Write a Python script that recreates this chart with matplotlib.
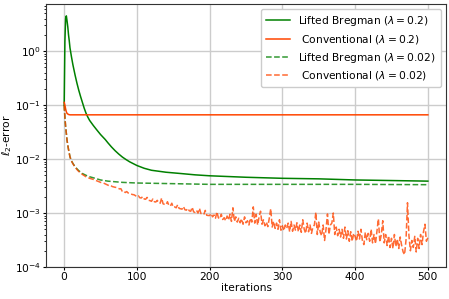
import numpy as np
import matplotlib
matplotlib.use("Agg")
import matplotlib.pyplot as plt

# Lifted Bregman, lambda = 0.2
lb02_it = [0, 1, 2, 3, 4, 5, 6, 7, 8, 10, 12, 15, 17.5, 20, 22.5, 25, 27.5, 30, 32.5, 35,
           40, 45, 50, 56.5, 60, 65, 70, 75, 80, 85, 90, 100, 110, 120, 140, 160, 180, 200,
           250, 300, 350, 400, 450, 500]
lb02_val = [0.1, 1.5, 4.0, 4.5, 3.6, 2.8, 2.0, 1.55, 1.15, 0.79, 0.56, 0.36, 0.257, 0.19,
            0.145, 0.113, 0.088, 0.071, 0.06, 0.052, 0.042, 0.0345, 0.0285, 0.023, 0.0201,
            0.0168, 0.0143, 0.0124, 0.0109, 0.0098, 0.0089, 0.0076, 0.00675, 0.0062, 0.0057,
            0.0054, 0.0051, 0.0049, 0.0046, 0.0044, 0.0043, 0.0041, 0.0040, 0.0039]

# Conventional, lambda = 0.2
cv02_it = [0, 1, 2, 3, 4, 6, 8, 10, 100, 200, 300, 400, 500]
cv02_val = [0.112, 0.1, 0.085, 0.075, 0.07, 0.067, 0.066, 0.066, 0.066, 0.066, 0.066, 0.066, 0.066]

# Lifted Bregman, lambda = 0.02
lb002_it = [0, 1, 2, 3, 4, 5, 6, 8, 10, 12, 15, 18, 20, 25, 30, 35, 40, 50, 60, 80, 100,
            150, 200, 300, 400, 500]
lb002_val = [0.1, 0.06, 0.04, 0.03, 0.022, 0.018, 0.015, 0.011, 0.0093, 0.0083, 0.0072,
             0.0065, 0.0061, 0.0054, 0.0050, 0.0047, 0.0045, 0.0041, 0.0039, 0.0037, 0.0036,
             0.0035, 0.0034, 0.0034, 0.0034, 0.00335]

# Conventional, lambda = 0.02
cv002_it_early = [0, 1, 2, 3, 4, 5, 6, 8, 10, 12, 15, 18, 20, 25, 30, 35]
cv002_val_early = [0.1, 0.06, 0.04, 0.03, 0.022, 0.018, 0.015, 0.011, 0.0092, 0.0082, 0.0071,
                   0.0063, 0.0059, 0.0052, 0.0047, 0.0044]
cv002_it_late = list(range(40, 501, 2))
cv002_val_late = [
    0.0042, 0.0041, 0.0040, 0.0039, 0.0038, 0.0037, 0.00365, 0.0036, 0.0035, 0.0034,
    0.0033, 0.0032, 0.00325, 0.0031, 0.00305, 0.0030, 0.00298, 0.0029, 0.0028, 0.00282,
    0.0025, 0.00255, 0.0024, 0.0025, 0.00235, 0.0023, 0.00226, 0.0022, 0.00218, 0.0021,
    0.0020, 0.00208, 0.00192, 0.0019, 0.00202, 0.00182, 0.0018, 0.00195, 0.00172, 0.0017,
    0.00165, 0.00182, 0.00162, 0.0016, 0.00172, 0.00155, 0.00152, 0.0019, 0.00148, 0.00145,
    0.00142, 0.00162, 0.00138, 0.00135, 0.00152, 0.00128, 0.0013, 0.00125, 0.00142, 0.00122,
    0.0012, 0.00118, 0.00132, 0.00115, 0.00113, 0.00122, 0.0011, 0.00108, 0.00128, 0.00105,
    0.00103, 0.00112, 0.001, 0.00122, 0.00098, 0.00096, 0.00094, 0.00112, 0.00091, 0.0009,
    0.0009, 0.00098, 0.00085, 0.00092, 0.0008, 0.00105, 0.00082, 0.00078, 0.00095, 0.00076,
    0.00082, 0.00072, 0.00088, 0.00074, 0.00095, 0.0007, 0.00125, 0.0007, 0.00085, 0.00068,
    0.0008, 0.00066, 0.00078, 0.00062, 0.00085, 0.00066, 0.00072, 0.0006, 0.0008, 0.00068,
    0.0013, 0.00065, 0.00095, 0.0006, 0.00085, 0.00108, 0.00062, 0.00075, 0.00058, 0.00068,
    0.00056, 0.0008, 0.0012, 0.00055, 0.0007, 0.00052, 0.00065, 0.0005, 0.00075, 0.00048,
    0.00058, 0.00047, 0.0006, 0.00052, 0.00065, 0.00045, 0.0007, 0.00046, 0.0006, 0.00048,
    0.00066, 0.00045, 0.0006, 0.00044, 0.00075, 0.0005, 0.00042, 0.00065, 0.00045, 0.0006,
    0.00042, 0.00055, 0.0006, 0.00103, 0.0004, 0.00068, 0.00044, 0.00038, 0.0006, 0.00031,
    0.0005, 0.00096, 0.0004, 0.0006, 0.00065, 0.001, 0.0004, 0.00055, 0.00038, 0.0005,
    0.00036, 0.0005, 0.00034, 0.00055, 0.00033, 0.00047, 0.0003, 0.00045, 0.0003, 0.00042,
    0.00037, 0.0003, 0.00046, 0.00033, 0.0005, 0.00031, 0.00026, 0.00044, 0.00032, 0.00042,
    0.0003, 0.0005, 0.00028, 0.0004, 0.00027, 0.00045, 0.00078, 0.00029, 0.0004, 0.00072,
    0.00028, 0.0004, 0.00025, 0.00038, 0.00023, 0.00034, 0.00022, 0.0004, 0.00024, 0.00033,
    0.00022, 0.00036, 0.00025, 0.00019, 0.00017, 0.00032, 0.00155, 0.00038, 0.0002, 0.00031,
    0.00023, 0.00037, 0.00019, 0.00034, 0.00022, 0.0004, 0.00026, 0.00045, 0.00062, 0.0003,
    0.00035,
]
cv002_it = cv002_it_early + cv002_it_late
cv002_val = cv002_val_early + cv002_val_late

labels = [r"Lifted Bregman ($\lambda=0.2$)", r" Conventional ($\lambda=0.2$)",
          r"Lifted Bregman ($\lambda=0.02$)", r" Conventional ($\lambda=0.02$)"]

GREEN = "green"
ORANGE = "orangered"
FS = 7.7

fig = plt.figure(figsize=(4.49, 2.99), dpi=100)
ax = fig.add_axes([0.1024, 0.107, 0.891, 0.88])

ax.plot(lb02_it, lb02_val, color=GREEN, lw=1.1, label=labels[0])
ax.plot(cv02_it, cv02_val, color=ORANGE, lw=1.1, label=labels[1])
ax.plot(lb002_it, lb002_val, color=GREEN, lw=1.1, ls="--", alpha=0.8, label=labels[2])
ax.plot(cv002_it, cv002_val, color=ORANGE, lw=1.1, ls="--", alpha=0.8, label=labels[3])

ax.set_yscale("log")
ax.set_ylim(1e-4, 7.5)
ax.set_xlim(-25, 525)
ax.set_xticks([0, 100, 200, 300, 400, 500])
ax.grid(True, which="major", color="#cccccc", lw=1)
ax.set_axisbelow(True)
ax.tick_params(which="major", labelsize=FS, length=2, pad=1.5)
ax.tick_params(which="minor", length=1.5)
ax.set_xlabel("iterations", fontsize=FS, labelpad=1)
ax.set_ylabel(r"$\ell_2$-error", fontsize=FS)
ax.yaxis.set_label_coords(-0.08, 0.5)
for s in ax.spines.values():
    s.set_color("#333333")
ax.legend(loc="upper right", fontsize=FS, handlelength=2.2, labelspacing=0.45,
          borderpad=0.45, framealpha=1.0, edgecolor="#cccccc")

fig.savefig("out.png", dpi=100)
